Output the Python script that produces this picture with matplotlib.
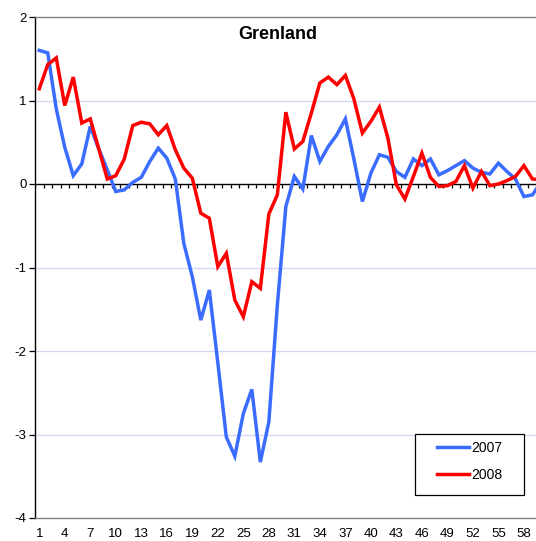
import matplotlib.pyplot as plt
from matplotlib.patches import Rectangle
import numpy as np

plt.rcParams['font.family'] = ['Liberation Sans', 'DejaVu Sans']
plt.rcParams['axes.unicode_minus'] = False

# week numbers 1..60 (chart is cut at the right edge)
weeks = np.arange(1, 61)
series_2007 = [1.60, 1.57, 0.90, 0.44, 0.10, 0.24, 0.69, 0.42, 0.17, -0.09,
               -0.07, 0.02, 0.08, 0.27, 0.43, 0.31, 0.06, -0.71, -1.11, -1.63,
               -1.27, -2.14, -3.03, -3.26, -2.75, -2.46, -3.33, -2.85, -1.45, -0.27,
               0.09, -0.06, 0.58, 0.27, 0.45, 0.59, 0.78, 0.30, -0.21, 0.13,
               0.35, 0.32, 0.15, 0.08, 0.30, 0.22, 0.30, 0.11, 0.16, 0.22,
               0.28, 0.19, 0.14, 0.12, 0.25, 0.15, 0.06, -0.15, -0.13, 0.02]
series_2008 = [1.14, 1.43, 1.51, 0.94, 1.28, 0.73, 0.78, 0.42, 0.06, 0.10,
               0.30, 0.70, 0.74, 0.72, 0.59, 0.70, 0.41, 0.19, 0.07, -0.35,
               -0.41, -0.99, -0.83, -1.39, -1.59, -1.17, -1.25, -0.36, -0.13, 0.86,
               0.42, 0.51, 0.85, 1.21, 1.28, 1.19, 1.30, 1.02, 0.61, 0.75,
               0.92, 0.55, -0.01, -0.18, 0.09, 0.37, 0.08, -0.03, -0.02, 0.03,
               0.22, -0.05, 0.15, -0.02, 0.00, 0.04, 0.09, 0.22, 0.06, 0.05]
xtick_labels = list(range(1, 59, 3))
title = 'Grenland'

W, H = 536, 541
fig = plt.figure(figsize=(W / 100, H / 100), dpi=100)
ax = fig.add_axes([35 / W, (H - 518) / H, (W - 35) / W, (518 - 17) / H])

# light grid lines like the Excel original
for y in [1, -1, -2, -3]:
    ax.axhline(y, color='#d4d4f7', lw=0.9, zorder=0)

ax.plot(weeks, series_2007, color='#3a6cff', lw=2.5, label='2007',
        solid_joinstyle='miter', zorder=3)
ax.plot(weeks, series_2008, color='#ff0000', lw=2.5, label='2008',
        solid_joinstyle='miter', zorder=3)

# zero line with category tick marks hanging below
ax.axhline(0, color='black', lw=1.0, zorder=2)
ax.vlines(np.arange(0.5, 61, 1), -0.05, 0, color='black', lw=0.9, zorder=2)

ax.set_xlim(0.5, 59.42)
ax.set_ylim(-4, 2)
ax.set_yticks(range(-4, 3))
ax.set_xticks(xtick_labels)
ax.set_xticklabels([str(v) for v in xtick_labels])
ax.tick_params(axis='y', direction='out', length=4, width=0.9, pad=2,
               labelsize=9.5, color='black')
ax.tick_params(axis='x', length=0, pad=7, labelsize=9.5)

ax.spines['right'].set_visible(False)
ax.spines['left'].set_color('black')
ax.spines['left'].set_linewidth(1.0)
for side in ['top', 'bottom']:
    ax.spines[side].set_color('#808080')
    ax.spines[side].set_linewidth(1.0)

ax.text(0.485, 0.966, title, transform=ax.transAxes, ha='center', va='center',
        fontsize=13, fontweight='bold')

# Excel-style legend: wide box with more side padding than matplotlib gives
box = Rectangle((0.759, 0.0465), 0.2164, 0.1218, transform=ax.transAxes,
                facecolor='white', edgecolor='black', lw=0.9, zorder=4)
ax.add_patch(box)
leg = ax.legend(loc='upper left', bbox_to_anchor=(0.8018, 0.1537), borderaxespad=0,
                fontsize=10, frameon=False, handlelength=2.3, handletextpad=0.2,
                borderpad=0, labelspacing=0.95)
leg.set_zorder(5)

fig.savefig('out.png', dpi=100)
